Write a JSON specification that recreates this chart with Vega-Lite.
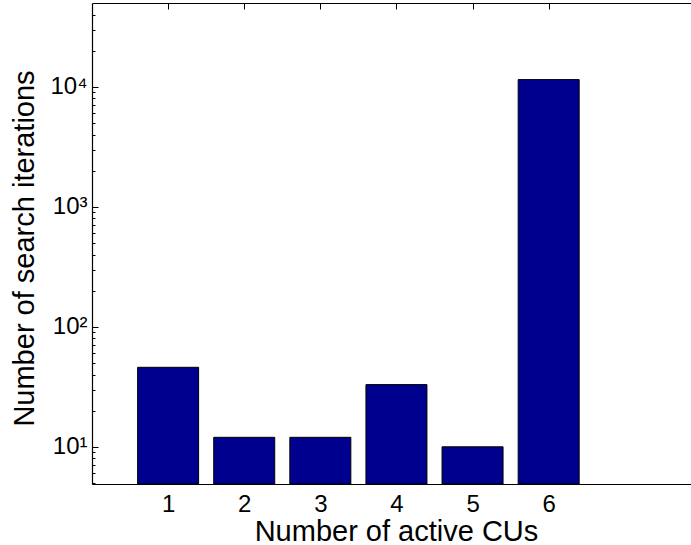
{
  "$schema": "https://vega.github.io/schema/vega-lite/v6.json",
  "width": 599,
  "height": 481,
  "autosize": {"type": "none"},
  "padding": {"left": 92, "top": 3, "right": 0, "bottom": 61},
  "background": "white",
  "data": {
    "values": [
      {"cus": 1, "iterations": 46},
      {"cus": 2, "iterations": 12},
      {"cus": 3, "iterations": 12},
      {"cus": 4, "iterations": 33},
      {"cus": 5, "iterations": 10},
      {"cus": 6, "iterations": 11500}
    ]
  },
  "config": {
    "view": {"stroke": null},
    "axis": {
      "domainColor": "black",
      "domainWidth": 1.2,
      "tickColor": "black",
      "tickWidth": 1,
      "labelColor": "black",
      "labelFont": "Liberation Sans",
      "labelFontSize": 24,
      "titleColor": "black",
      "titleFont": "Liberation Sans",
      "titleFontSize": 29,
      "titleFontWeight": "normal",
      "grid": false
    }
  },
  "layer": [
    {
      "mark": {"type": "bar", "size": 61, "color": "#00008F", "stroke": "black", "strokeWidth": 1},
      "encoding": {
        "x": {
          "field": "cus",
          "type": "quantitative",
          "scale": {"domain": [0, 7.87], "nice": false, "zero": false, "padding": 0},
          "axis": {
            "orient": "bottom",
            "values": [1, 2, 3, 4, 5, 6],
            "ticks": false,
            "labelPadding": 8,
            "labelFlush": false,
            "title": "Number of active CUs",
            "titlePadding": 1,
            "titleX": 304
          }
        },
        "y": {
          "field": "iterations",
          "type": "quantitative",
          "scale": {"type": "log", "domain": [4.9, 50000], "nice": false},
          "axis": {
            "orient": "left",
            "values": [5, 6, 7, 8, 9, 10, 20, 30, 40, 50, 60, 70, 80, 90, 100, 200, 300, 400, 500, 600, 700, 800, 900, 1000, 2000, 3000, 4000, 5000, 6000, 7000, 8000, 9000, 10000, 20000, 30000, 40000],
            "tickSize": {"condition": {"test": "indexof([10, 100, 1000, 10000], datum.value) >= 0", "value": -6}, "value": -3},
            "labelExpr": "datum.value == 10 ? '10¹' : datum.value == 100 ? '10²' : datum.value == 1000 ? '10³' : datum.value == 10000 ? '10⁴' : ''",
            "labelPadding": 11,
            "labelBaseline": "middle",
            "title": "Number of search iterations",
            "titlePadding": 10,
            "titleY": 245
          }
        },
        "y2": {"datum": 4.9}
      }
    },
    {
      "mark": {"type": "point", "opacity": 0},
      "encoding": {
        "x": {
          "field": "cus",
          "type": "quantitative",
          "scale": {"domain": [0, 7.87], "nice": false, "zero": false, "padding": 0},
          "axis": {
            "orient": "top",
            "values": [1, 2, 3, 4, 5, 6],
            "labels": false,
            "tickSize": -6,
            "title": null
          }
        }
      }
    }
  ],
  "resolve": {"axis": {"x": "independent"}}
}
